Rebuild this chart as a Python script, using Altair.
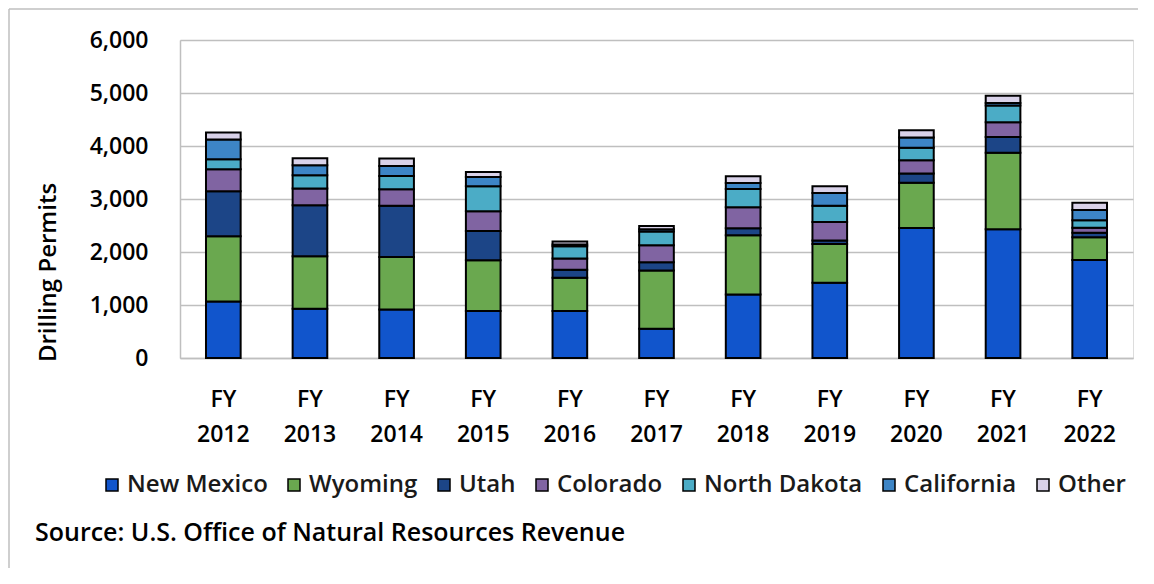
import altair as alt
import pandas as pd

years = ["FY 2012", "FY 2013", "FY 2014", "FY 2015", "FY 2016", "FY 2017",
         "FY 2018", "FY 2019", "FY 2020", "FY 2021", "FY 2022"]
states = ["New Mexico", "Wyoming", "Utah", "Colorado", "North Dakota", "California", "Other"]
colors = ["#1155cc", "#6aa84f", "#1c4587", "#8064a2", "#4bacc6", "#3d85c6", "#d9d2e9"]

new_mexico = [1065, 928, 915, 885, 885, 552, 1199, 1419, 2453, 2428, 1851]
wyoming = [1230, 990, 991, 961, 628, 1099, 1117, 734, 853, 1443, 426]
utah = [852, 966, 965, 552, 150, 157, 132, 63, 176, 301, 88]
colorado = [414, 313, 314, 370, 214, 320, 396, 351, 251, 276, 94]
north_dakota = [188, 251, 251, 471, 232, 257, 345, 308, 232, 314, 138]
california = [376, 188, 188, 176, 32, 44, 113, 239, 194, 50, 195]
other = [132, 132, 138, 94, 56, 63, 125, 125, 138, 138, 138]

source_text = "Source: U.S. Office of Natural Resources Revenue"
FONT = "Open Sans"

series = [new_mexico, wyoming, utah, colorado, north_dakota, california, other]
rows = []
for si, (st, vals) in enumerate(zip(states, series)):
    for y, v in zip(years, vals):
        rows.append({"year": y, "state": st, "permits": v, "idx": si})
df = pd.DataFrame(rows)

bars = alt.Chart(df).mark_bar(stroke="black", strokeWidth=2).encode(
    x=alt.X("year:N", sort=years, title=None,
            scale=alt.Scale(paddingInner=0.6, paddingOuter=0.3),
            axis=alt.Axis(labelAngle=0, ticks=False, domainColor="#bfbfbf", domainWidth=1.5,
                          labelExpr="['FY', substring(datum.label, 3)]",
                          labelFont=FONT, labelFontSize=23, labelFontWeight=600,
                          labelColor="#000000", labelLineHeight=35, labelPadding=30,
                          labelBaseline="top")),
    y=alt.Y("permits:Q", stack="zero", title="Drilling Permits",
            scale=alt.Scale(domain=[0, 6000]),
            axis=alt.Axis(values=[0, 1000, 2000, 3000, 4000, 5000, 6000], format=",d",
                          ticks=False, domain=True, domainColor="#bfbfbf", domainWidth=1.5,
                          gridColor="#bfbfbf", gridWidth=1.5,
                          labelFont=FONT, labelFontSize=23, labelFontWeight=600,
                          labelColor="#000000", labelPadding=32,
                          titleFont=FONT, titleFontSize=24, titleFontWeight=600,
                          titleColor="#000000", titleX=-132, titleY=232,
                          titleAlign="center", titleBaseline="middle")),
    color=alt.Color("state:N", sort=states,
                    scale=alt.Scale(domain=states, range=colors),
                    legend=alt.Legend(title=None, orient="none", direction="horizontal",
                                      legendX=-80, legendY=433, columns=7,
                                      symbolType="square", symbolSize=144,
                                      symbolStrokeColor="black", symbolStrokeWidth=1.5,
                                      symbolOpacity=1,
                                      labelFont=FONT, labelFontSize=24, labelFontWeight=600,
                                      labelColor="#1a1a1a", labelOffset=3,
                                      columnPadding=14, padding=0, labelLimit=300)),
    order=alt.Order("idx:Q", sort="ascending"),
)

src = alt.Chart(pd.DataFrame({"t": [source_text]})).mark_text(
    align="left", baseline="middle", font=FONT, fontSize=25, fontWeight=600, color="#000000"
).encode(text="t:N", x=alt.value(-145), y=alt.value(493))

frame_left = alt.Chart(pd.DataFrame({"a": [0]})).mark_rule(
    stroke="#bfbfbf", strokeWidth=1.5
).encode(x=alt.value(-171), y=alt.value(-31), y2=alt.value(700))
frame_top = alt.Chart(pd.DataFrame({"a": [0]})).mark_rule(
    stroke="#bfbfbf", strokeWidth=1.5
).encode(x=alt.value(-171), x2=alt.value(1200), y=alt.value(-31))

chart = alt.layer(frame_left, frame_top, bars, src).properties(
    width=953, height=318,
    autosize=alt.AutoSizeParams(type="none"),
    padding={"left": 172, "top": 32, "right": 5, "bottom": 210},
).configure_view(stroke=None).configure(background="white")

chart.save("out.html", embed_options={"renderer": "svg", "actions": False})
